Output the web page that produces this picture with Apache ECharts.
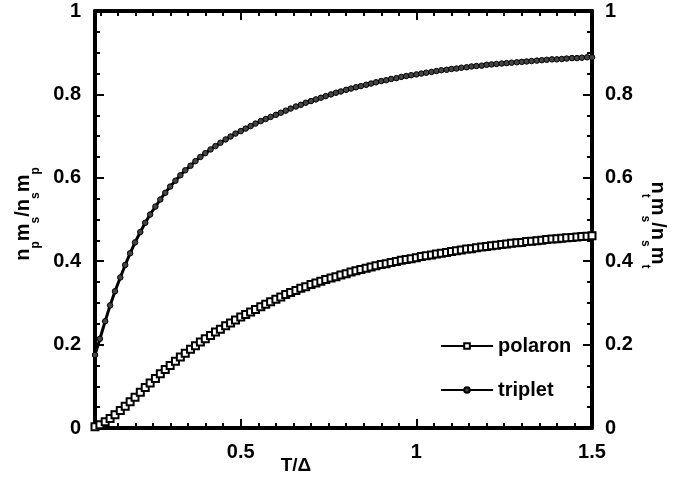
<!DOCTYPE html>
<html>
<head>
<meta charset="utf-8">
<script src="https://cdn.jsdelivr.net/npm/echarts@6/dist/echarts.min.js"></script>
<style>
  html, body { margin: 0; padding: 0; background: #fff; }
  #chart { width: 696px; height: 484px; }
</style>
</head>
<body>
<div id="chart"></div>
<script>
// T/Delta grid
const tOverDelta = [
  0.085, 0.099, 0.114, 0.128, 0.142, 0.157, 0.171, 0.185, 0.199, 0.214,
  0.228, 0.242, 0.257, 0.271, 0.285, 0.299, 0.314, 0.328, 0.342, 0.357,
  0.371, 0.385, 0.399, 0.414, 0.428, 0.442, 0.457, 0.471, 0.485, 0.500,
  0.514, 0.528, 0.542, 0.557, 0.571, 0.585, 0.600, 0.614, 0.628, 0.642,
  0.657, 0.671, 0.685, 0.700, 0.714, 0.728, 0.742, 0.757, 0.771, 0.785,
  0.800, 0.814, 0.828, 0.842, 0.857, 0.871, 0.885, 0.900, 0.914, 0.928,
  0.943, 0.957, 0.971, 0.985, 1.000, 1.014, 1.028, 1.043, 1.057, 1.071,
  1.086, 1.100, 1.114, 1.128, 1.143, 1.157, 1.171, 1.186, 1.200, 1.214,
  1.228, 1.243, 1.257, 1.271, 1.286, 1.300, 1.314, 1.328, 1.343, 1.357,
  1.371, 1.386, 1.400, 1.414, 1.428, 1.443, 1.457, 1.471, 1.486, 1.500
]

// n_p m_s / n_s m_p
const polaron = [
  0.003, 0.008, 0.015, 0.023, 0.032, 0.042, 0.052, 0.063, 0.074, 0.086,
  0.097, 0.108, 0.119, 0.130, 0.140, 0.150, 0.160, 0.170, 0.179, 0.189,
  0.197, 0.206, 0.214, 0.222, 0.230, 0.237, 0.245, 0.252, 0.259, 0.266,
  0.272, 0.278, 0.284, 0.291, 0.297, 0.303, 0.309, 0.314, 0.320, 0.325,
  0.330, 0.335, 0.339, 0.344, 0.348, 0.352, 0.356, 0.360, 0.363, 0.367,
  0.370, 0.374, 0.377, 0.380, 0.383, 0.386, 0.389, 0.392, 0.394, 0.397,
  0.399, 0.402, 0.404, 0.406, 0.408, 0.411, 0.413, 0.415, 0.417, 0.419,
  0.421, 0.423, 0.425, 0.427, 0.429, 0.430, 0.432, 0.434, 0.435, 0.437,
  0.438, 0.440, 0.441, 0.443, 0.444, 0.445, 0.447, 0.448, 0.449, 0.450,
  0.452, 0.453, 0.454, 0.455, 0.456, 0.457, 0.458, 0.459, 0.460, 0.461
]

// n_t m_s / n_s m_t
const triplet = [
  0.175, 0.214, 0.256, 0.294, 0.328, 0.361, 0.391, 0.419, 0.445, 0.470,
  0.492, 0.512, 0.531, 0.548, 0.564, 0.579, 0.593, 0.606, 0.618, 0.629,
  0.640, 0.650, 0.659, 0.668, 0.676, 0.684, 0.692, 0.699, 0.706, 0.712,
  0.718, 0.724, 0.730, 0.736, 0.741, 0.746, 0.751, 0.756, 0.761, 0.766,
  0.771, 0.775, 0.780, 0.784, 0.788, 0.792, 0.796, 0.800, 0.804, 0.807,
  0.811, 0.814, 0.817, 0.820, 0.823, 0.826, 0.829, 0.832, 0.834, 0.837,
  0.839, 0.842, 0.844, 0.846, 0.848, 0.850, 0.852, 0.854, 0.856, 0.858,
  0.859, 0.861, 0.862, 0.864, 0.865, 0.867, 0.868, 0.869, 0.871, 0.872,
  0.873, 0.874, 0.875, 0.876, 0.877, 0.878, 0.879, 0.880, 0.881, 0.882,
  0.883, 0.884, 0.884, 0.885, 0.886, 0.887, 0.887, 0.888, 0.889, 0.889
]

const xMajorTicks = [0.5, 1, 1.5]
const xMinorTicks = [0.1, 0.15, 0.2, 0.25, 0.3, 0.35, 0.4, 0.45, 0.55, 0.6, 0.65, 0.7, 0.75,
  0.8, 0.85, 0.9, 0.95, 1.05, 1.1, 1.15, 1.2, 1.25, 1.3, 1.35, 1.4, 1.45]

const FONT = '"Liberation Sans", Arial, Helvetica, sans-serif'
const black = '#000'

function xAxisDef(position, ticks, len, withLine, withLabels) {
  return {
    type: 'value',
    position: position,
    min: 0.085,
    max: 1.5,
    axisLine: { show: withLine, onZero: false, lineStyle: { color: black, width: 4 } },
    axisTick: { show: true, inside: true, length: len, customValues: ticks, lineStyle: { color: black, width: 2 } },
    axisLabel: {
      show: withLabels,
      customValues: ticks,
      margin: 14,
      color: black,
      fontFamily: FONT,
      fontWeight: 'bold',
      fontSize: 20
    },
    splitLine: { show: false }
  }
}

function yAxisDef(position, margin) {
  return {
    type: 'value',
    position: position,
    min: 0,
    max: 1,
    interval: 0.2,
    axisLine: { show: true, onZero: false, lineStyle: { color: black, width: 4 } },
    axisTick: { show: true, inside: true, length: 9, lineStyle: { color: black, width: 2 } },
    minorTick: { show: true, splitNumber: 4, length: 5, lineStyle: { color: black, width: 2 } },
    axisLabel: {
      margin: margin,
      color: black,
      fontFamily: FONT,
      fontWeight: 'bold',
      fontSize: 20
    },
    splitLine: { show: false },
    minorSplitLine: { show: false }
  }
}

const mainTok = { fontSize: 20, fontWeight: 'bold', fontFamily: FONT, fill: black, color: black, lineHeight: 22, verticalAlign: 'top' }
const subTok = { fontSize: 12, fontWeight: 'bold', fontFamily: FONT, fill: black, color: black, lineHeight: 13, padding: [17, 0, 0, 0], verticalAlign: 'top' }

const chart = echarts.init(document.getElementById('chart'), null, { renderer: 'canvas' })

chart.setOption({
  animation: false,
  backgroundColor: '#fff',
  grid: { left: 95, right: 104, top: 11, bottom: 56, containLabel: false, outerBoundsMode: 'none' },
  xAxis: [
    xAxisDef('bottom', xMajorTicks, 9, true, true),
    xAxisDef('bottom', xMinorTicks, 5, false, false),
    xAxisDef('top', xMajorTicks, 9, true, false),
    xAxisDef('top', xMinorTicks, 5, false, false)
  ],
  yAxis: [
    yAxisDef('left', 14),
    yAxisDef('right', 13)
  ],
  legend: {
    orient: 'vertical',
    left: 435,
    top: 331,
    itemWidth: 52,
    itemHeight: 7,
    itemGap: 24,
    textStyle: { color: black, fontFamily: FONT, fontWeight: 'bold', fontSize: 20 },
    data: ['polaron', 'triplet']
  },
  graphic: [
    {
      type: 'text',
      x: 24,
      y: 214,
      rotation: Math.PI / 2,
      style: {
        text: '{n|n}{s|p}{n|m}{s|s}{n|/n}{s|s}{n|m}{s|p}',
        align: 'center',
        verticalAlign: 'middle',
        rich: { n: mainTok, s: subTok }
      }
    },
    {
      type: 'text',
      x: 657,
      y: 225,
      rotation: -Math.PI / 2,
      style: {
        text: '{n|n}{s|t}{n|m}{s|s}{n|/n}{s|s}{n|m}{s|t}',
        align: 'center',
        verticalAlign: 'middle',
        rich: { n: mainTok, s: subTok }
      }
    },
    {
      type: 'text',
      x: 296,
      y: 466,
      style: {
        text: 'T/Δ',
        fill: black,
        fontFamily: FONT,
        fontWeight: 'bold',
        fontSize: 19,
        align: 'center',
        verticalAlign: 'middle'
      }
    }
  ],
  series: [
    {
      name: 'polaron',
      type: 'line',
      clip: false,
      data: tOverDelta.map((t, i) => [t, polaron[i]]),
      symbol: 'emptyRect',
      symbolSize: 7,
      lineStyle: { color: black, width: 3 },
      itemStyle: { color: black, borderColor: black, borderWidth: 1.5 },
      z: 3
    },
    {
      name: 'triplet',
      type: 'line',
      clip: false,
      data: tOverDelta.map((t, i) => [t, triplet[i]]),
      symbol: 'circle',
      symbolSize: 5.5,
      lineStyle: { color: black, width: 3 },
      itemStyle: { color: '#444', borderColor: '#000', borderWidth: 1 },
      z: 2
    }
  ]
})
</script>
</body>
</html>
